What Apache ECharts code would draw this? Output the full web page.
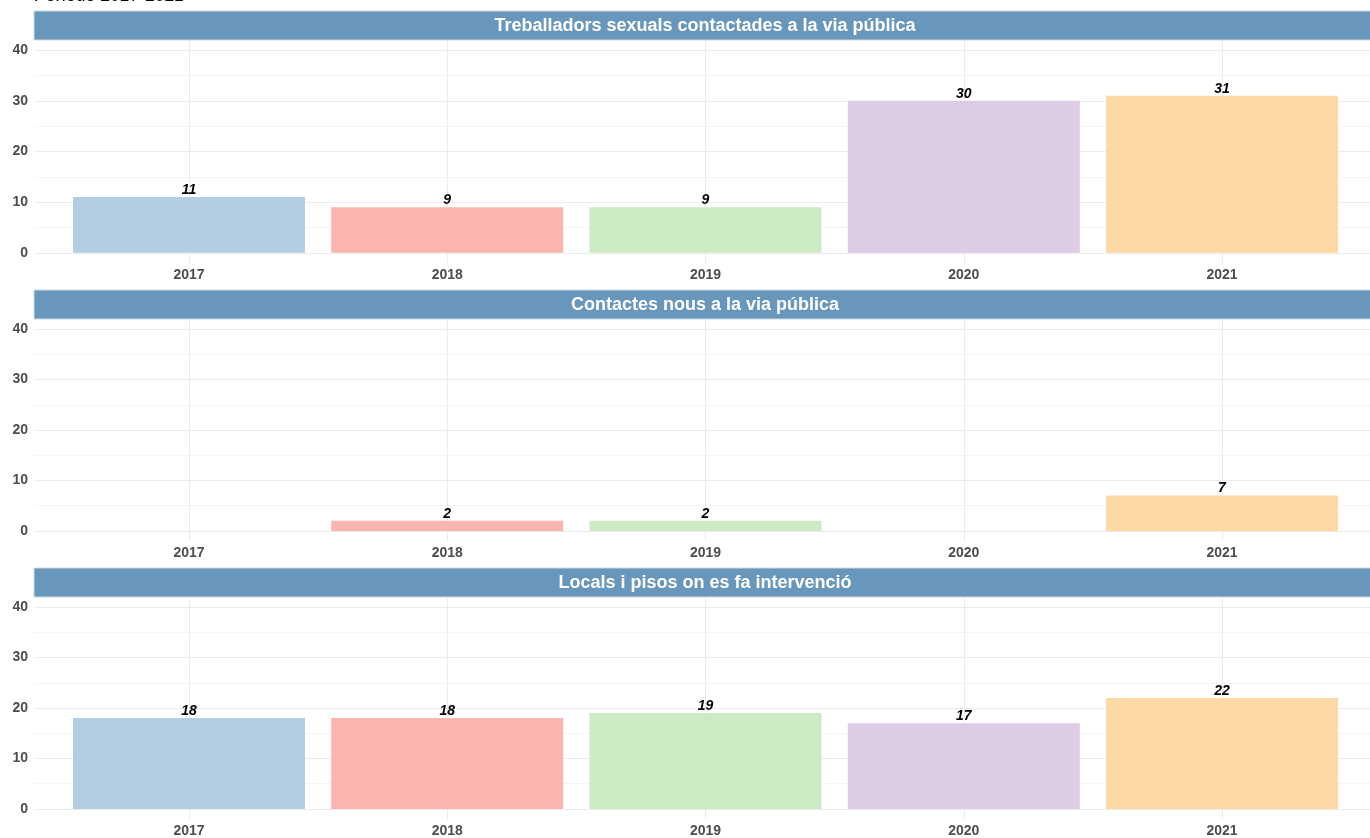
<!DOCTYPE html>
<html><head><meta charset="utf-8">
<script src="https://cdn.jsdelivr.net/npm/echarts@6/dist/echarts.min.js"></script>
<style>html,body{margin:0;padding:0;background:#fff;}#c{width:1370px;height:838px;}</style>
</head><body><div id="c"></div>
<script>
const years = ['2017','2018','2019','2020','2021'];
const panelTitles = ['Treballadors sexuals contactades a la via pública','Contactes nous a la via pública','Locals i pisos on es fa intervenció'];
const valsContactades = [11, 9, 9, 30, 31];
const valsNous = [null, 2, 2, null, 7];
const valsLocals = [18, 18, 19, 17, 22];
const yearColors = ['#B3CDE3','#FBB4AE','#CCEBC5','#DECBE4','#FED9A6'];
const majorTicks = [0, 10, 20, 30, 40];
const minorTicks = [5, 15, 25, 35];
const subtitle = 'Període 2017-2021';

const panels = [valsContactades, valsNous, valsLocals];
const FONT = '"Liberation Sans", Arial, sans-serif';
const layout = [{top:40,h:223,strip:11},{top:319,h:222,strip:290},{top:597,h:223,strip:568}];

const grids=[], xAxes=[], yAxes=[], series=[], graphics=[];
panels.forEach((vals, p) => {
  const L = layout[p];
  grids.push({left:34, right:0, top:L.top, height:L.h});
  xAxes.push({type:'value', gridIndex:p, min:0.4, max:5.573,
    axisLine:{show:false},
    axisTick:{show:false, customValues:[1,2,3,4,5]},
    axisLabel:{customValues:[1,2,3,4,5], formatter:v=>years[Math.round(v)-1], color:'#4d4d4d', fontWeight:'bold', fontSize:14, fontFamily:FONT, margin:5},
    splitLine:{show:true, customValues:[1,2,3,4,5], lineStyle:{color:'#ebebeb', width:1}}
  });
  yAxes.push({type:'value', gridIndex:p, min:-2, max:42,
    axisLine:{show:false},
    axisTick:{show:false, customValues:majorTicks},
    axisLabel:{customValues:majorTicks, color:'#4d4d4d', fontWeight:'bold', fontSize:14, fontFamily:FONT, margin:6},
    splitLine:{show:true, customValues:majorTicks, lineStyle:{color:'#ebebeb', width:1}}
  });
  yAxes.push({type:'value', gridIndex:p, min:-2, max:42, show:true,
    axisLine:{show:false},
    axisTick:{show:false, customValues:minorTicks},
    axisLabel:{show:false, customValues:minorTicks},
    splitLine:{show:true, customValues:minorTicks, lineStyle:{color:'#f4f4f4', width:1}}
  });
  const data = [];
  vals.forEach((v,i)=>{ if(v!==null) data.push({value:[i+1, v], itemStyle:{color:yearColors[i]}}); });
  series.push({type:'bar', xAxisIndex:p, yAxisIndex:p*2, data:data, barWidth:232,
    label:{show:true, position:'top', distance:0, color:'#000', fontWeight:'bold', fontStyle:'italic', fontSize:14, fontFamily:FONT, formatter:pp=>pp.value[1]}
  });
  graphics.push({type:'rect', shape:{x:34, y:L.strip, width:1343, height:29}, style:{fill:'#6897BB', stroke:'#c9d9e8', lineWidth:1}});
  graphics.push({type:'text', x:705, y:L.strip+15, style:{text:panelTitles[p], fill:'#fff', font:'bold 18px '+FONT, textAlign:'center', textVerticalAlign:'middle'}});
});
graphics.push({type:'text', x:34, y:-4, style:{text:subtitle, fill:'#000', font:'17.5px '+FONT, textAlign:'left', textVerticalAlign:'middle'}});

const chart = echarts.init(document.getElementById('c'));
chart.setOption({animation:false, grid:grids, xAxis:xAxes, yAxis:yAxes, series:series, graphic:graphics});
</script></body></html>
